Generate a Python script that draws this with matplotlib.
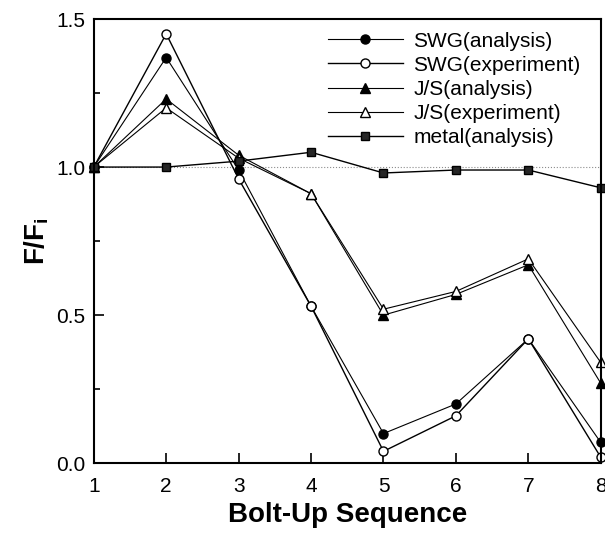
import matplotlib
matplotlib.use("Agg")
import matplotlib.pyplot as plt
from matplotlib.ticker import MultipleLocator, FormatStrFormatter

plt.rcParams['font.family'] = ['Liberation Sans', 'DejaVu Sans']

# bolt-up sequence and normalised bolt force F/Fi
seq = [1, 2, 3, 4, 5, 6, 7, 8]
swg_analysis = [1.0, 1.37, 0.99, 0.53, 0.10, 0.20, 0.42, 0.07]
swg_experiment = [1.0, 1.45, 0.96, 0.53, 0.04, 0.16, 0.42, 0.02]
js_analysis = [1.0, 1.23, 1.04, 0.91, 0.50, 0.57, 0.67, 0.27]
js_experiment = [1.0, 1.20, 1.03, 0.91, 0.52, 0.58, 0.69, 0.34]
metal_analysis = [1.0, 1.0, 1.02, 1.05, 0.98, 0.99, 0.99, 0.93]

fig = plt.figure(figsize=(6.05, 5.43), dpi=100)
ax = fig.add_axes([0.155, 0.147, 0.838, 0.818])

# reference line at F/Fi = 1
ax.axhline(1.0, color='0.55', lw=0.8, ls=':', zorder=1)

ms = 6.5
ax.plot(seq, swg_analysis, color='k', lw=0.8, marker='o', ms=ms,
        mfc='k', mec='k', label='SWG(analysis)', clip_on=False)
ax.plot(seq, swg_experiment, color='k', lw=1.0, marker='o', ms=ms,
        mfc='white', mec='k', label='SWG(experiment)', clip_on=False)
ax.plot(seq, js_analysis, color='k', lw=0.8, marker='^', ms=ms,
        mfc='k', mec='k', label='J/S(analysis)', clip_on=False)
ax.plot(seq, js_experiment, color='k', lw=0.8, marker='^', ms=ms,
        mfc='white', mec='k', label='J/S(experiment)', clip_on=False)
ax.plot(seq, metal_analysis, color='k', lw=1.0, marker='s', ms=ms - 0.5,
        mfc='0.15', mec='k', label='metal(analysis)', clip_on=False)

ax.set_xlim(1, 8)
ax.set_ylim(0, 1.5)
ax.xaxis.set_major_locator(MultipleLocator(1))
ax.yaxis.set_major_locator(MultipleLocator(0.5))
ax.yaxis.set_minor_locator(MultipleLocator(0.25))
ax.yaxis.set_major_formatter(FormatStrFormatter('%.1f'))
ax.tick_params(direction='in', which='both', labelsize=15, width=1.2)
ax.tick_params(which='major', length=7)
ax.tick_params(which='minor', length=4)
ax.tick_params(axis='x', pad=10)
ax.tick_params(axis='y', pad=6)
for s in ax.spines.values():
    s.set_linewidth(1.5)

ax.set_xlabel('Bolt-Up Sequence', fontsize=20, fontweight='bold', labelpad=4)
ax.set_ylabel('F/F$_\\mathregular{i}$', fontsize=20, fontweight='bold', labelpad=4)

ax.legend(loc='upper right', frameon=False, fontsize=15, handlelength=3.6,
          handletextpad=0.5, labelspacing=0.25, borderaxespad=0.2,
          bbox_to_anchor=(0.985, 1.0))

fig.savefig('out.png', dpi=100)
